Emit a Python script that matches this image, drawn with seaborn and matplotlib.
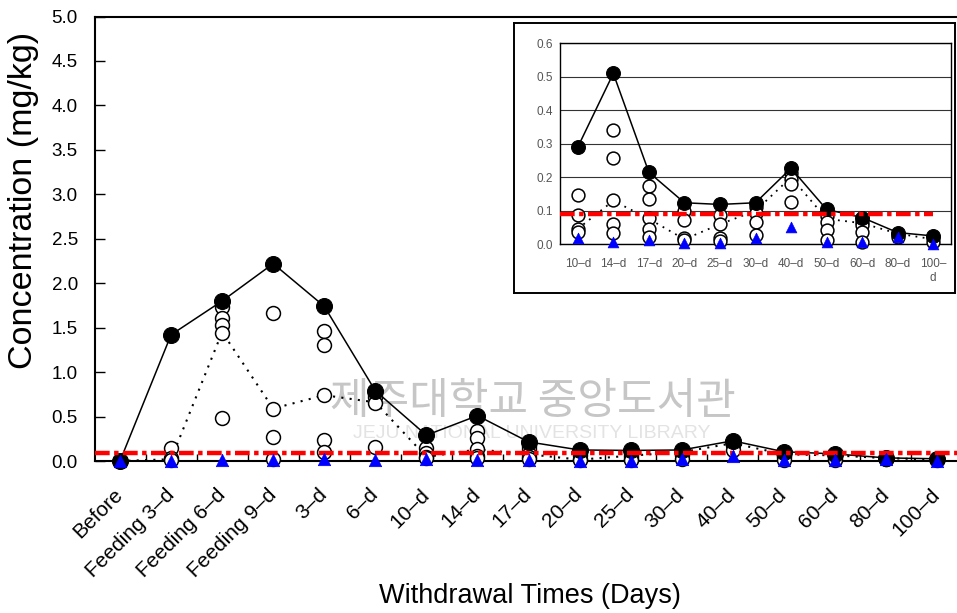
import numpy as np
import pandas as pd
import matplotlib
matplotlib.use("Agg")
import matplotlib.pyplot as plt
import seaborn as sns
from matplotlib.ticker import FormatStrFormatter

# ---------------- data ----------------
categories = ["Before", "Feeding 3–d", "Feeding 6–d", "Feeding 9–d", "3–d", "6–d",
              "10–d", "14–d", "17–d", "20–d", "25–d", "30–d", "40–d", "50–d",
              "60–d", "80–d", "100–d"]
max_vals = [0.0, 1.42, 1.80, 2.22, 1.74, 0.79, 0.29, 0.51, 0.215, 0.124, 0.119,
            0.124, 0.227, 0.104, 0.080, 0.035, 0.025]
mean_vals = [0.0, 0.02, 1.45, 0.59, 0.74, 0.66, 0.046, 0.13, 0.076, 0.015, 0.06,
             0.10, 0.20, 0.076, 0.063, 0.032, 0.015]
min_vals = [0.0, 0.0, 0.01, 0.01, 0.02, 0.01, 0.018, 0.008, 0.013, 0.004, 0.003,
            0.018, 0.053, 0.006, 0.006, 0.023, 0.0]
samples = {
    "Before": [0.0, 0.0, 0.0],
    "Feeding 3–d": [0.15, 0.03, 0.01],
    "Feeding 6–d": [1.73, 1.61, 1.53, 1.44, 0.48],
    "Feeding 9–d": [1.67, 0.59, 0.27, 0.02],
    "3–d": [1.46, 1.30, 0.74, 0.24, 0.10],
    "6–d": [0.75, 0.72, 0.65, 0.16],
    "10–d": [0.147, 0.088, 0.046, 0.038],
    "14–d": [0.34, 0.257, 0.132, 0.06, 0.033],
    "17–d": [0.174, 0.134, 0.078, 0.046, 0.023],
    "20–d": [0.098, 0.073, 0.018, 0.013],
    "25–d": [0.088, 0.061, 0.018, 0.01],
    "30–d": [0.112, 0.093, 0.068, 0.028],
    "40–d": [0.212, 0.195, 0.179, 0.127],
    "50–d": [0.083, 0.068, 0.043, 0.013],
    "60–d": [0.068, 0.058, 0.038, 0.008],
    "80–d": [0.028, 0.023],
    "100–d": [0.018, 0.008],
}
mrl = 0.09
inset_start = 6
inset_ticklabels = ["10–d", "14–d", "17–d", "20–d", "25–d", "30–d", "40–d",
                    "50–d", "60–d", "80–d", "100–\nd"]
main_yticks = [0.0, 0.5, 1.0, 1.5, 2.0, 2.5, 3.0, 3.5, 4.0, 4.5, 5.0]
inset_yticks = [0.0, 0.1, 0.2, 0.3, 0.4, 0.5, 0.6]

# ---------------- frames ----------------
pos = np.arange(len(categories))
df = pd.DataFrame({"pos": pos, "max": max_vals, "mean": mean_vals, "min": min_vals})
rows = [(categories.index(c), v) for c in categories for v in samples[c]]
sdf = pd.DataFrame(rows, columns=["pos", "value"])

sns.set_style("white")
plt.rcParams["font.family"] = ["Liberation Sans", "DejaVu Sans"]
plt.rcParams["text.color"] = "black"
plt.rcParams["axes.labelcolor"] = "black"
plt.rcParams["xtick.color"] = "black"
plt.rcParams["ytick.color"] = "black"

fig = plt.figure(figsize=(9.57, 6.13), dpi=100)
W, H = 957.0, 613.0


def fbox(x0, y0, x1, y1):
    return [x0 / W, 1 - y1 / H, (x1 - x0) / W, (y1 - y0) / H]


ax = fig.add_axes(fbox(94.5, 16.5, 962.5, 461))
ax.set_facecolor("none")

RED_LS = (0, (3.3, 1.0, 1.0, 1.0))


def draw(axis, d, s, ms_big, s_open, s_tri, lw_dot):
    sns.lineplot(data=d, x="pos", y="mean", ax=axis, color="black", lw=lw_dot,
                 linestyle=(0, (1, 3)), estimator=None, sort=False, zorder=2,
                 legend=False)
    sns.scatterplot(data=s, x="pos", y="value", ax=axis, marker="o", s=s_open,
                    color="white", edgecolor="black", linewidth=1.1, zorder=3,
                    clip_on=False, legend=False)
    sns.lineplot(data=d, x="pos", y="max", ax=axis, color="black", lw=1.1,
                 marker="o", markersize=ms_big, markerfacecolor="black",
                 markeredgecolor="black", estimator=None, sort=False, zorder=4,
                 clip_on=False, legend=False)
    sns.scatterplot(data=d, x="pos", y="min", ax=axis, marker="^", s=s_tri,
                    color="#0000ff", edgecolor="#0000ff", linewidth=0.5,
                    zorder=7, clip_on=False, legend=False)


draw(ax, df, sdf, 11.5, 100, 80, 1.5)
ax.axhline(mrl, color="red", lw=3.2, ls=RED_LS, zorder=6)

ax.set_xlim(-0.5, len(categories) - 0.5)
ax.set_ylim(0, 5)
ax.set_xticks(pos)
ax.set_xticklabels(categories, rotation=45, ha="right", va="center",
                   rotation_mode="anchor", fontsize=15)
ax.set_xticks(pos[:-1] + 0.5, minor=True)
ax.tick_params(axis="x", which="major", length=0, pad=22)
ax.tick_params(axis="x", which="minor", direction="in", length=5, width=1,
               bottom=True, color="black")
ax.set_yticks(main_yticks)
ax.yaxis.set_major_formatter(FormatStrFormatter("%.1f"))
ax.tick_params(axis="y", direction="in", length=7, width=1, pad=12,
               labelsize=13.5, left=True, color="black")
for sp in ["left", "top", "bottom", "right"]:
    ax.spines[sp].set_color("black")
    ax.spines[sp].set_linewidth(1.5)
ax.set_xlabel("")
ax.set_ylabel("")

fig.text(24 / W, 1 - 200 / H, "Concentration (mg/kg)", rotation=90,
         ha="center", va="center", fontsize=24.5)
fig.text(530 / W, 1 - 603 / H, "Withdrawal Times (Days)", ha="center",
         va="baseline", fontsize=19.5)

# watermark
ax.text(533 / W, 1 - 402 / H, "제주대학교 중앙도서관", transform=fig.transFigure,
        ha="center", va="center", fontsize=31, color="#c6c6c6",
        family=["Noto Sans CJK KR", "DejaVu Sans"], zorder=0.5)
ax.text(532 / W, 1 - 434 / H, "JEJU NATIONAL UNIVERSITY LIBRARY",
        transform=fig.transFigure, ha="center", va="center", fontsize=14,
        color="#e3e3e3", zorder=0.5)

# ---------------- inset ----------------
frame = fig.add_axes(fbox(514, 23, 955, 293))
frame.set_facecolor("white")
frame.set_xticks([])
frame.set_yticks([])
for sp in frame.spines.values():
    sp.set_color("black")
    sp.set_linewidth(1.4)
frame.set_zorder(5)

ax2 = fig.add_axes(fbox(560, 43.3, 951, 244.3))
ax2.set_zorder(6)
ax2.set_facecolor("white")
d2 = df.iloc[inset_start:].copy()
d2["pos"] = d2["pos"] - inset_start
s2 = sdf[sdf["pos"] >= inset_start].copy()
s2["pos"] = s2["pos"] - inset_start
draw(ax2, d2, s2, 10, 85, 60, 1.3)
ax2.hlines(mrl, -0.5, d2["pos"].iloc[-1], color="red", lw=3.2, ls=RED_LS,
           zorder=6)
ax2.set_xlim(-0.5, len(d2) - 0.5)
ax2.set_ylim(0, 0.6)
ax2.set_yticks(inset_yticks)
ax2.yaxis.set_major_formatter(FormatStrFormatter("%.1f"))
ax2.set_xticks(d2["pos"])
ax2.set_xticklabels(inset_ticklabels, fontsize=8.5, color="#555555")
ax2.tick_params(axis="x", length=0, pad=10)
ax2.tick_params(axis="y", length=0, pad=5, labelsize=8.5, labelcolor="#555555")
ax2.yaxis.grid(True, color="#333333", lw=0.8)
ax2.set_axisbelow(True)
for sp in ax2.spines.values():
    sp.set_color("black")
    sp.set_linewidth(1.0)
ax2.set_xlabel("")
ax2.set_ylabel("")

fig.savefig("out.png", dpi=100)
